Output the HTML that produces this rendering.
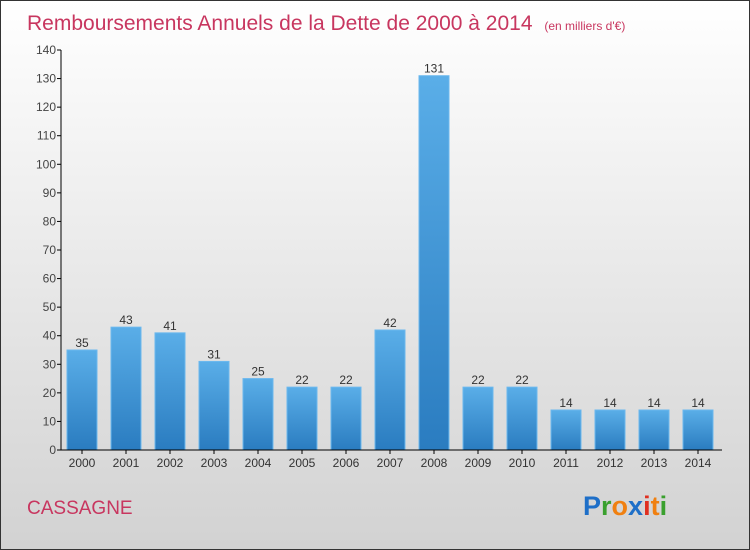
<!DOCTYPE html>
<html><head><meta charset="utf-8"><style>
body{margin:0}
#c{width:748px;height:548px;border:1px solid #333;background:linear-gradient(#fff,#d2d2d2);position:relative;font-family:"Liberation Sans",sans-serif;overflow:hidden}
</style></head><body>
<div id="c">
<svg width="748" height="548">
<defs><linearGradient id="g" x1="0" y1="0" x2="0" y2="1"><stop offset="0" stop-color="#5aaee8"/><stop offset="1" stop-color="#2a7cc0"/></linearGradient></defs>
<text x="26" y="29" font-size="21" fill="#c8365f">Remboursements Annuels de la Dette de 2000 à 2014 <tspan font-size="12" dx="6">(en milliers d'€)</tspan></text>
<g id="plot"></g>
<text x="26" y="513" font-size="19" fill="#c8365f">CASSAGNE</text>
<text x="582" y="514" font-size="27" font-weight="bold"><tspan fill="#1e6fc8">P</tspan><tspan fill="#3aa02e">r</tspan><tspan fill="#f08010">o</tspan><tspan fill="#1e6fc8">x</tspan><tspan fill="#e03020">i</tspan><tspan fill="#f08010">t</tspan><tspan fill="#3aa02e">i</tspan></text>
</svg></div>
<script>
const categories=["2000","2001","2002","2003","2004","2005","2006","2007","2008","2009","2010","2011","2012","2013","2014"];
const values=[35,43,41,31,25,22,22,42,131,22,22,14,14,14,14];
const yTicks=[0,10,20,30,40,50,60,70,80,90,100,110,120,130,140];
const ns="http://www.w3.org/2000/svg",p=document.getElementById('plot');
const x0=60,band=44,y0=449,yMax=140,h=400;
const y=v=>y0-v/yMax*h;
function mk(t,a,txt){const e=document.createElementNS(ns,t);for(const k in a)e.setAttribute(k,a[k]);if(txt!=null)e.textContent=txt;p.appendChild(e);return e;}
yTicks.forEach(t=>{
 let l=mk('line',{x1:x0-4,x2:x0,y1:y(t),y2:y(t),stroke:'#000'});
 
 let tx=mk('text',{x:x0-5,y:y(t)+4,'font-size':12,fill:'#444','text-anchor':'end'},t);
 
});
categories.forEach((c,i)=>{
 const bx=x0+6+i*band,v=values[i];
 let r=mk('rect',{x:bx,y:y(v),width:30,height:y0-y(v),fill:'url(#g)',stroke:'#6bb8ee','stroke-width':1});
 
 let vl=mk('text',{x:bx+15,y:y(v)-3,'font-size':12,fill:'#333','text-anchor':'middle'},v);
 
 let tk=mk('line',{x1:bx+15,x2:bx+15,y1:y0,y2:y0+4,stroke:'#000'});
 
 let xl=mk('text',{x:bx+15,y:y0+17,'font-size':12,fill:'#333','text-anchor':'middle'},c);
 
});
let ya=mk('line',{x1:x0,x2:x0,y1:y(140),y2:y0,stroke:'#000'});

let xa=mk('line',{x1:x0,x2:x0+band*15+1,y1:y0,y2:y0,stroke:'#000'});

</script>
</body></html>
